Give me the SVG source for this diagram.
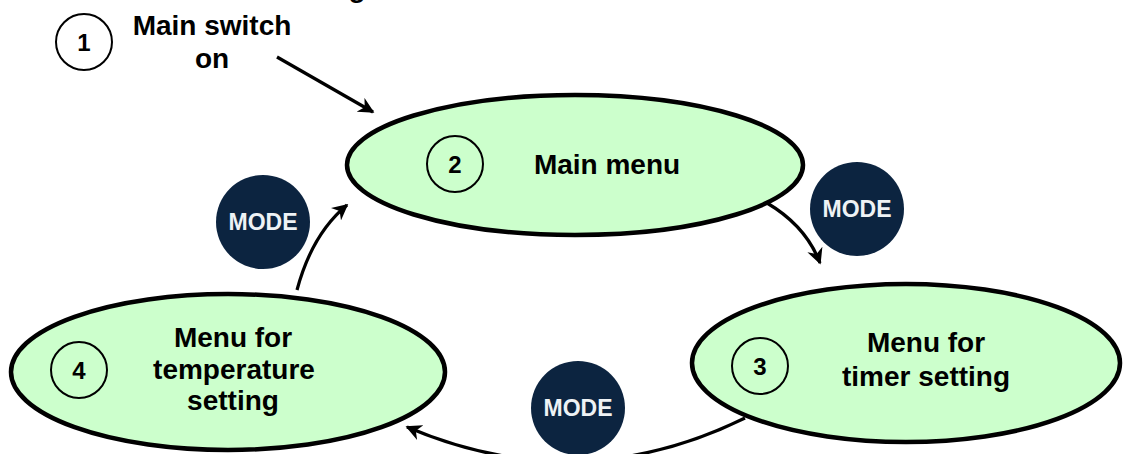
<svg xmlns="http://www.w3.org/2000/svg" width="1123" height="454" viewBox="0 0 1123 454">
<style>
.st{fill:#CCFFCC;stroke:#000;stroke-width:4.5}
.num{fill:none;stroke:#000;stroke-width:2}
.nt{font-family:"Liberation Sans",Arial,sans-serif;font-weight:bold;font-size:24px;fill:#000;text-anchor:middle}
.lb{font-family:"Liberation Sans",Arial,sans-serif;font-weight:bold;font-size:28px;fill:#000;text-anchor:middle}
.mc{fill:#0C2440}
.mt{font-family:"Liberation Sans",Arial,sans-serif;font-weight:bold;font-size:23px;fill:#EEF2F5;text-anchor:middle}
.cn{fill:none;stroke:#000;stroke-width:3.2}
</style>
<defs>
<marker id="ah" viewBox="0 0 10 10" refX="9" refY="5" markerWidth="5" markerHeight="5" orient="auto" markerUnits="strokeWidth">
<path d="M0,0 L10,5 L0,10 L3,5 Z" fill="#000"/>
</marker>
</defs>
<text class="lb" x="357" y="-3">g</text>
<g id="start">
<circle class="num" cx="84" cy="42" r="28"/>
<text class="nt" x="84" y="51">1</text>
<text class="lb" x="212" y="35" font-size="26">Main switch</text>
<text class="lb" x="212" y="68" font-size="26">on</text>
</g>
<g id="n2">
<ellipse class="st" cx="575" cy="165" rx="228" ry="70"/>
<circle class="num" cx="455" cy="164" r="28"/>
<text class="nt" x="455" y="173">2</text>
<text class="lb" x="607" y="174">Main menu</text>
</g>
<g id="n3">
<ellipse class="st" cx="906" cy="363" rx="214" ry="79"/>
<circle class="num" cx="760" cy="366" r="28"/>
<text class="nt" x="760" y="375">3</text>
<text class="lb" x="926" y="352">Menu for</text>
<text class="lb" x="926" y="386">timer setting</text>
</g>
<g id="n4">
<ellipse class="st" cx="228" cy="372" rx="217" ry="78"/>
<circle class="num" cx="79" cy="370" r="28"/>
<text class="nt" x="79" y="379">4</text>
<text class="lb" x="233" y="347">Menu for</text>
<text class="lb" x="234" y="379">temperature</text>
<text class="lb" x="233" y="410">setting</text>
</g>
<g id="mode1">
<circle class="mc" cx="263" cy="222" r="47"/>
<text class="mt" x="263" y="230">MODE</text>
</g>
<g id="mode2">
<circle class="mc" cx="857" cy="209" r="47"/>
<text class="mt" x="857" y="217">MODE</text>
</g>
<g id="mode3">
<circle class="mc" cx="578" cy="408" r="47"/>
<text class="mt" x="578" y="416">MODE</text>
</g>
<g id="connectors">
<path class="cn" d="M277,57 L373,112" marker-end="url(#ah)"/>
<path class="cn" d="M767,203 Q806,226 820,263" marker-end="url(#ah)"/>
<path class="cn" d="M745,418 Q578,500 407,427" marker-end="url(#ah)"/>
<path class="cn" d="M297,290 Q312,234 347,205" marker-end="url(#ah)"/>
</g>
</svg>
